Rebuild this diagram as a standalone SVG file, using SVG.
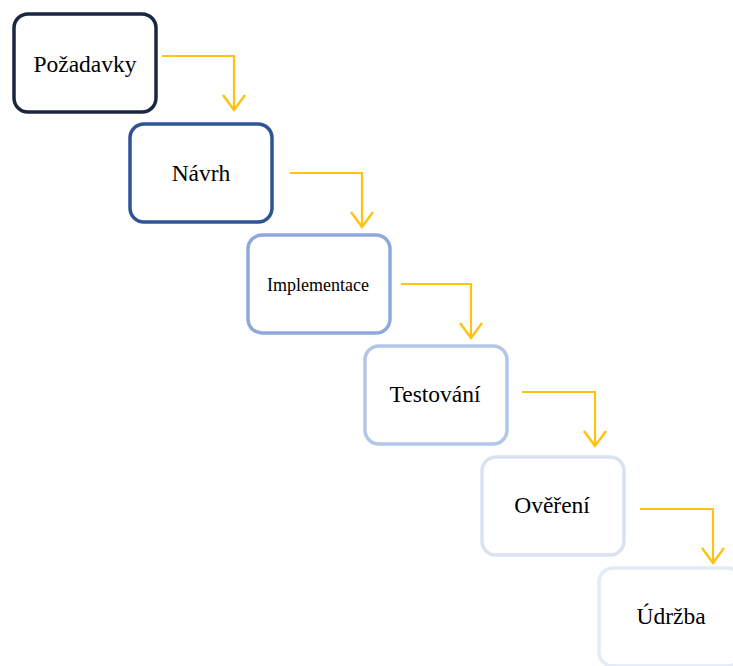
<svg xmlns="http://www.w3.org/2000/svg" width="733" height="666" viewBox="0 0 733 666">
  <style>
    .box { fill: #ffffff; stroke-width: 3.5; }
    .label { font-family: "Liberation Serif", "Times New Roman", serif; font-size: 23.5px; fill: #000000; text-anchor: middle; }
    .small { font-size: 18px; }
    .link { fill: none; stroke: #ffc20e; stroke-width: 2.2; marker-end: url(#vhead); }
  </style>
  <defs>
    <marker id="vhead" viewBox="-17 -13 19 26" markerWidth="19" markerHeight="26" refX="0" refY="0" markerUnits="userSpaceOnUse" orient="auto">
      <path d="M-15,-11 L0,0 L-15,11" fill="none" stroke="#ffc20e" stroke-width="2.4" stroke-linejoin="miter"/>
    </marker>
  </defs>
  <rect width="733" height="666" fill="#ffffff"/>

  <g id="pozadavky">
    <rect class="box" x="14" y="14" width="142" height="98" rx="14" stroke="#1b2641"/>
    <text class="label" x="85" y="72">Požadavky</text>
  </g>
  <g id="navrh">
    <rect class="box" x="130" y="124" width="142" height="98" rx="14" stroke="#2f5496"/>
    <text class="label" x="201" y="181">Návrh</text>
  </g>
  <g id="implementace">
    <rect class="box" x="248" y="235" width="142" height="98" rx="14" stroke="#8eaadb"/>
    <text class="label small" x="318" y="291">Implementace</text>
  </g>
  <g id="testovani">
    <rect class="box" x="365" y="346" width="142" height="98" rx="14" stroke="#b4c6e7"/>
    <text class="label" x="435" y="402">Testování</text>
  </g>
  <g id="overeni">
    <rect class="box" x="482" y="457" width="142" height="98" rx="14" stroke="#d9e2f3"/>
    <text class="label" x="552" y="513">Ověření</text>
  </g>
  <g id="udrzba">
    <rect class="box" x="599" y="568" width="142" height="98" rx="14" stroke="#e4eaf6"/>
    <text class="label" x="671" y="624">Údržba</text>
  </g>

  <g id="connectors">
    <polyline class="link" points="162,56 234,56 234,110"/>
    <polyline class="link" points="290,173 362,173 362,227"/>
    <polyline class="link" points="401,284 471,284 471,338"/>
    <polyline class="link" points="522,392 595,392 595,446"/>
    <polyline class="link" points="640,509 713,509 713,563"/>
  </g>
</svg>
